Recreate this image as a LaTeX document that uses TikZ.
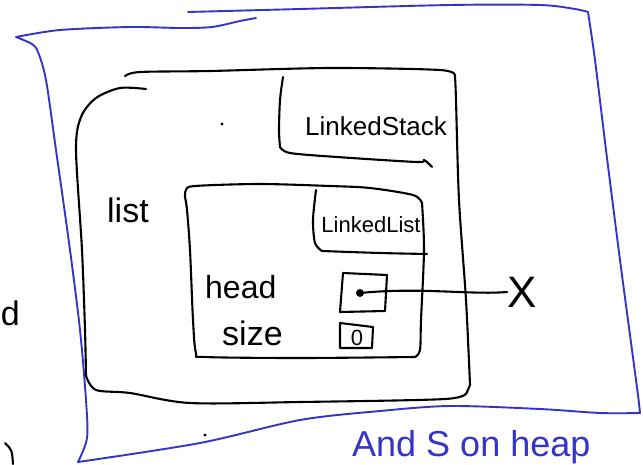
\documentclass[tikz,border=0pt]{standalone}
\usepackage{fontspec}
\setmainfont{Liberation Sans}
\usepackage{tikz}
\definecolor{penblue}{RGB}{52,52,200}
\newcommand{\handsize}[1]{\fontsize{#1}{#1}\selectfont}
\tikzstyle{ink}=[draw=black, line width=2.1pt, line cap=round, line join=round]
\tikzstyle{blueink}=[draw=penblue, line width=1.9pt, line cap=round, line join=round]
\tikzstyle{hand}=[inner sep=0pt, anchor=base west, text=black]
\tikzstyle{dot}=[circle, fill=black, inner sep=0pt, minimum size=8pt]

\begin{document}
\begin{tikzpicture}[x=1pt, y=-1pt]
		
		\useasboundingbox (0,0) rectangle (643,464);
		\clip (0,0) rectangle (643,464);
		\fill[white] (0,0) rectangle (643,464);
		
		% blue frame
		\draw[blueink] plot[smooth] coordinates {(188,12) (300,9) (450,5) (540,5) (575,9) (588,12)}
		-- plot[smooth] coordinates {(588,12) (595,60) (606,150) (620,260) (632,350) (638,395) (640,413)}
		-- plot[smooth] coordinates {(640,413) (600,413) (540,409) (450,406) (380,411) (300,420) (200,443) (78,462)};
		\draw[blueink] plot[smooth] coordinates {(78,462) (87,438) (86,400) (80,330) (70,250) (56,150) (46,80) (38,52) (32,44) (16,37)}
		-- plot[smooth] coordinates {(16,37) (60,30) (130,27) (180,28) (212,27) (240,21) (256,18)};
		
		% LinkedStack object
		\draw[ink] plot[smooth] coordinates {(125,76) (140,72) (210,71) (330,68) (440,70) (455,76)}
		-- plot[smooth] coordinates {(455,76) (456,100) (459,200) (466,300) (470,385)} -- (467,392);
		\draw[ink] plot[smooth] coordinates {(146,89) (120,88) (96,98) (81,117) (76,150) (82,250) (85,330) (86,376)}
		-- plot[smooth] coordinates {(86,376) (96,390) (130,393) (190,403) (300,402) (445,399) (467,392)};
		\draw[ink] plot[smooth] coordinates {(283,77) (280,100) (279,130) (280,147)}
		-- plot[smooth] coordinates {(280,147) (290,153) (337,157) (417,162) (424,160) (432,167)};
		
		% LinkedList object
		\draw[ink] plot[smooth] coordinates {(185,197) (186,190) (195,186) (260,184) (330,186) (370,188) (413,195) (422,203)}
		-- plot[smooth] coordinates {(422,203) (424,250) (421,320) (420,350) (415,357)}
		-- plot[smooth] coordinates {(415,357) (300,358) (205,357) (196,353) (193,320) (190,250) (187,210) (185,197)};
		\draw[ink] plot[smooth] coordinates {(316,190) (313,220) (315,243) (322,251)}
		-- plot[smooth] coordinates {(322,251) (380,253) (427,254)};
		
		% fields
		\draw[ink] (343,273) -- (387,275) -- (385,311) -- (340,312) -- cycle;
		\draw[ink] (340,323) -- (373,327) -- (372,348) -- (340,348) -- cycle;
		
		\node (stacklbl) [hand, anchor=base] at (376,135) {\handsize{26}LinkedStack};
		\node (listlbl) [hand, anchor=base] at (371,232) {\handsize{22}LinkedList};
		\node (listfield) [hand] at (107,222) {\handsize{34}list};
		\node (headfield) [hand] at (205,298) {\handsize{32}head};
		\node (sizefield) [hand] at (222,345) {\handsize{34}size};
		\node (sizeval) [hand, anchor=center] at (357,338) {\handsize{22}0};
		\node (cutd) [hand, anchor=base east] at (20,325) {\handsize{34}d};
		\node (heapnote) [hand, text=penblue] at (352,456) {\handsize{36}And S on heap};
		
		\node (headdot) [dot] at (360,293) {};
		\node (nullx) [hand, anchor=center] at (522,292) {\handsize{44}X};
		\draw[ink] (headdot.center) .. controls (420,287) and (470,295) .. (nullx.west);
		
		% stray marks
		\fill (222,124) circle (1.6);
		\fill (205,435) circle (1.6);
		\draw[ink] (5,443) .. controls (12,450) .. (13,464);
		
\end{tikzpicture}
\end{document}
